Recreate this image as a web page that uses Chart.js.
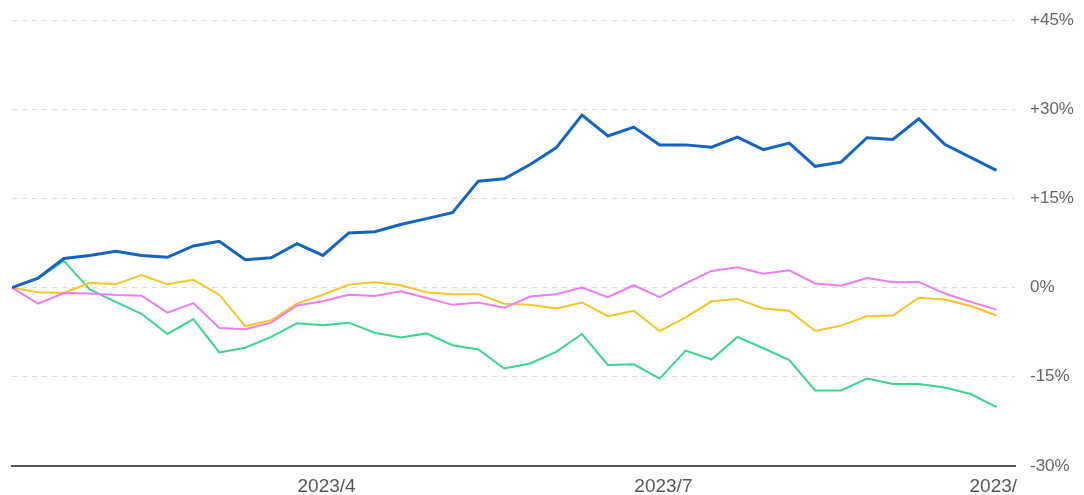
<!DOCTYPE html>
<html>
<head>
<meta charset="utf-8">
<script src="https://cdn.jsdelivr.net/npm/chart.js@4"></script>
<style>
  html, body { margin: 0; padding: 0; background: #fff; }
  #wrap { width: 1084px; height: 495px; }
</style>
</head>
<body>
<div id="wrap"><canvas id="perfChart" width="1084" height="495"></canvas></div>
<script>
// weekly dates (Fridays)
const dates = [
    '2023-01-06', '2023-01-13', '2023-01-20', '2023-01-27', '2023-02-03', '2023-02-10',
    '2023-02-17', '2023-02-24', '2023-03-03', '2023-03-10', '2023-03-17', '2023-03-24',
    '2023-03-31', '2023-04-07', '2023-04-14', '2023-04-21', '2023-04-28', '2023-05-05',
    '2023-05-12', '2023-05-19', '2023-05-26', '2023-06-02', '2023-06-09', '2023-06-16',
    '2023-06-23', '2023-06-30', '2023-07-07', '2023-07-14', '2023-07-21', '2023-07-28',
    '2023-08-04', '2023-08-11', '2023-08-18', '2023-08-25', '2023-09-01', '2023-09-08',
    '2023-09-15', '2023-09-22', '2023-09-29'
];

// return (%) per series
const blueSeries = [
    0, 1.6, 4.9, 5.4, 6.1, 5.4, 5.1, 7.0, 7.8, 4.7, 5.0, 7.4, 5.4, 9.2, 9.4, 10.6, 11.6, 12.6,
    17.9, 18.3, 20.7, 23.5, 29.0, 25.5, 27.0, 24.0, 24.0, 23.6, 25.3, 23.2, 24.3, 20.4, 21.1,
    25.2, 24.9, 28.4, 24.1, 21.9, 19.7
];
const goldSeries = [
    0, -0.8, -0.9, 0.8, 0.55, 2.1, 0.55, 1.3, -1.2, -6.5, -5.5, -2.7, -1.2, 0.5, 0.9, 0.4, -0.8, -1.1,
    -1.1, -2.7, -2.9, -3.5, -2.5, -4.8, -3.9, -7.3, -5.0, -2.3, -1.9, -3.5, -3.9, -7.3, -6.4,
    -4.8, -4.7, -1.7, -2.0, -3.1, -4.7
];
const violetSeries = [
    0, -2.7, -0.9, -1.0, -1.25, -1.35, -4.2, -2.6, -6.8, -7.0, -5.9, -3.0, -2.3, -1.2, -1.4, -0.6, -1.75, -2.9,
    -2.5, -3.4, -1.5, -1.1, 0, -1.6, 0.4, -1.6, 0.7, 2.8, 3.4, 2.35, 2.9, 0.7, 0.3,
    1.6, 0.9, 0.95, -1.0, -2.4, -3.7
];
const greenSeries = [
    0, 1.5, 4.5, -0.3, -2.4, -4.4, -7.8, -5.3, -10.9, -10.1, -8.3, -6.0, -6.35, -5.9, -7.6, -8.4, -7.7, -9.7,
    -10.4, -13.6, -12.75, -10.8, -7.8, -13.0, -12.9, -15.3, -10.6, -12.1, -8.3, -10.2, -12.2, -17.3, -17.3,
    -15.3, -16.2, -16.2, -16.8, -17.9, -20.1
];

// axis ticks
const yTicks = [-30, -15, 0, 15, 30, 45];
const xTickDates = ['2023-04-01', '2023-07-01', '2023-10-01'];
const xTickLabels = ['2023/4', '2023/7', '2023/10'];
const xEndDate = '2023-10-04';

const DAY = 86400000;
const t0 = Date.parse(dates[0]);
const dayNum = d => (Date.parse(d) - t0) / DAY;
const toPoints = arr => arr.map((v, i) => ({ x: dayNum(dates[i]), y: v }));

// hides the part of the last month label that runs past the plot
const clipLabels = {
    id: 'clipLabels',
    beforeDraw(chart) {
        const { ctx, chartArea, width, height } = chart;
        ctx.save();
        ctx.beginPath();
        ctx.rect(0, 0, width, height);
        ctx.rect(chartArea.right + 3, chartArea.bottom + 10, width, height);
        ctx.clip('evenodd');
    },
    afterDraw(chart) {
        chart.ctx.restore();
    }
};

function line(data, color, width) {
    return {
        data: toPoints(data),
        borderColor: color,
        backgroundColor: color,
        borderWidth: width,
        pointRadius: 0,
        tension: 0,
        fill: false
    };
}

const ctx = document.getElementById('perfChart').getContext('2d');
new Chart(ctx, {
    type: 'line',
    data: {
        datasets: [
            line(blueSeries, '#1565c0', 3),
            line(violetSeries, '#ee7df0', 2),
            line(goldSeries, '#f7c52a', 2),
            line(greenSeries, '#3dd490', 2)
        ]
    },
    plugins: [clipLabels],
    options: {
        responsive: false,
        animation: false,
        layout: { padding: { top: 20, left: 12, right: 0, bottom: 0 } },
        plugins: { legend: { display: false }, tooltip: { enabled: false } },
        scales: {
            x: {
                type: 'linear',
                min: 0,
                max: dayNum(xEndDate),
                afterBuildTicks: scale => {
                    scale.ticks = xTickDates.map(d => ({ value: dayNum(d) }));
                },
                afterFit: scale => {
                    scale.height = 29;
                    scale.paddingLeft = 0;
                    scale.paddingRight = 0;
                },
                grid: { display: false, drawTicks: false },
                border: { display: true, color: '#555', width: 2 },
                ticks: {
                    autoSkip: false,
                    maxRotation: 0,
                    padding: 9,
                    color: '#555',
                    font: { family: 'Liberation Sans, Arial, sans-serif', size: 19 },
                    callback: (v, i) => xTickLabels[i]
                }
            },
            y: {
                position: 'right',
                min: yTicks[0],
                max: yTicks[yTicks.length - 1],
                afterBuildTicks: scale => {
                    scale.ticks = yTicks.map(v => ({ value: v }));
                },
                afterFit: scale => {
                    scale.width = 69;
                    scale.paddingTop = 0;
                    scale.paddingBottom = 0;
                },
                grid: { color: '#dcdcdc', lineWidth: 1, drawTicks: false, tickLength: 0 },
                border: { display: false, dash: [5, 5] },
                ticks: {
                    padding: 15,
                    color: '#666',
                    font: { family: 'Liberation Sans, Arial, sans-serif', size: 17 },
                    callback: v => (v > 0 ? '+' : '') + v + '%'
                }
            }
        }
    }
});
</script>
</body>
</html>
